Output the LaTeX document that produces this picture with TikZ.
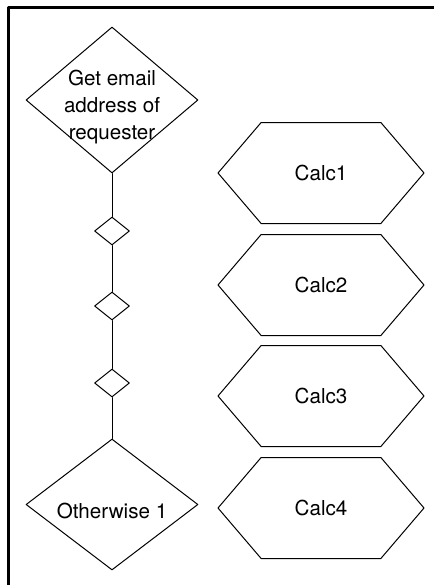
\documentclass[tikz,border=0pt]{standalone}
\usepackage{fontspec}
\setmainfont{TeX Gyre Heros}
\usetikzlibrary{shapes.geometric,shapes.symbols}

\begin{document}
\begin{tikzpicture}[x=0.5pt, y=-0.5pt, line cap=round, line join=round,
  every node/.style={font=\fontsize{10.3}{13.5}\selectfont},
  choice/.style={draw, line width=0.5pt, diamond, inner sep=-6pt, align=center,
    minimum width=86pt},
  gate/.style={draw, line width=0.5pt, diamond, inner sep=0pt,
    minimum width=17.5pt, minimum height=14pt},
  calcbox/.style={draw, line width=0.5pt, signal, signal to=west and east,
    signal pointer angle=99, inner sep=0pt,
    minimum width=103pt, minimum height=50.5pt}]

  \useasboundingbox (0,0) rectangle (434,585);

  % Frame (top and left edges only)
  \draw[line width=1.5pt, line cap=butt] (8.7,585) -- (8.7,7.5) -- (434,7.5);

  % Left column: decisions
  \node[choice, minimum height=73pt, text height=41.4pt, text depth=2.2pt] (get)
    at (112,100) {Get email\\address of\\requester};
  \foreach \y [count=\i] in {231,306,383}
    \node[gate] (g\i) at (112,\y) {};
  \node[choice, minimum height=65.5pt, text height=13.5pt, text depth=0pt] (other)
    at (112,504.5) {Otherwise 1};

  % Connectors
  \draw[line width=0.5pt] (get.south) -- (g1.north);
  \draw[line width=0.5pt] (g1.south) -- (g2.north);
  \draw[line width=0.5pt] (g2.south) -- (g3.north);
  \draw[line width=0.5pt] (g3.south) -- (other.north);

  % Right column: calculations
  \foreach \y [count=\i] in {173,285,396,508}
    \node[calcbox] (calc\i) at (321,\y) {Calc\i};
\end{tikzpicture}
\end{document}
